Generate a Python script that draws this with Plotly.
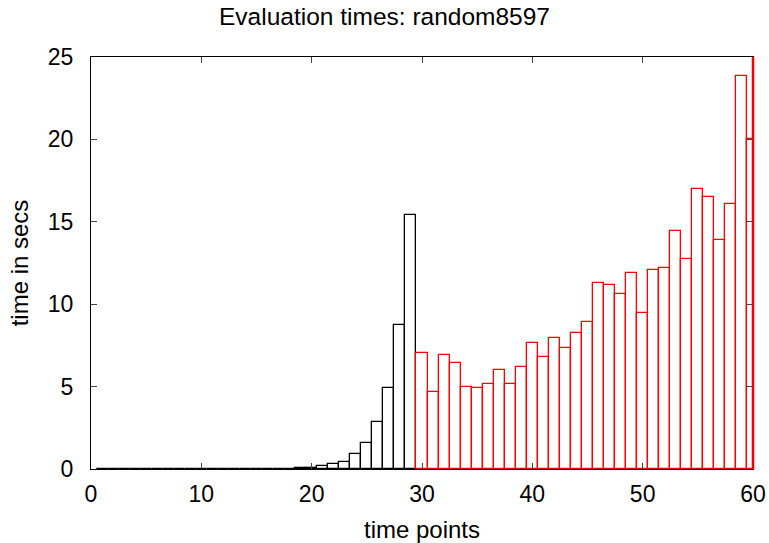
import plotly.graph_objects as go

black_x = list(range(1, 30))
black_y = [0.0, 0.0, 0.0, 0.0, 0.0, 0.0, 0.0, 0.0, 0.0, 0.0,
           0.0, 0.0, 0.0, 0.0, 0.01, 0.01, 0.02, 0.03, 0.05, 0.08,
           0.16, 0.3, 0.44, 0.89, 1.56, 2.87, 4.9, 8.76, 15.4]

red_x = list(range(30, 61))
red_y = [7.02, 4.67, 6.92, 6.43, 4.95, 4.93, 5.18, 5.99, 5.14, 6.17,
         7.67, 6.8, 7.93, 7.32, 8.27, 8.94, 11.27, 11.15, 10.64, 11.91,
         9.49, 12.05, 12.18, 14.42, 12.72, 16.97, 16.49, 13.88, 16.1, 23.85,
         20.0]

x_ticks = [0, 10, 20, 30, 40, 50, 60]
y_ticks = [0, 5, 10, 15, 20, 25]

fig = go.Figure()
fig.add_trace(go.Bar(x=black_x, y=black_y, width=1,
                     marker=dict(color="white", line=dict(color="black", width=1.3)),
                     showlegend=False))
fig.add_trace(go.Bar(x=red_x, y=red_y, width=1,
                     marker=dict(color="white", line=dict(color="red", width=1.3)),
                     showlegend=False))

# right border drawn red (clipped last red box in the original)
fig.add_shape(type="line", xref="paper", yref="paper", x0=1, x1=1, y0=0, y1=1,
              line=dict(color="red", width=2.5))

font = "Liberation Sans, Arial, Helvetica, sans-serif"
fig.update_layout(
    width=769, height=543,
    margin=dict(l=91, r=16, t=57, b=74, autoexpand=False),
    plot_bgcolor="white", paper_bgcolor="white",
    barmode="overlay", bargap=0,
    font=dict(family=font, size=23, color="black"),
    title=dict(text="Evaluation times: random8597", x=0.5, xanchor="center",
               y=0.969, yanchor="middle", font=dict(family=font, size=24.5)),
    xaxis=dict(range=[0, 60], tickvals=x_ticks, ticks="inside", ticklen=6,
               showline=True, linecolor="black", linewidth=1, mirror="ticks",
               showgrid=False, zeroline=False, automargin=False,
               ticklabelstandoff=4,
               title=dict(text="time points", font=dict(size=24), standoff=17)),
    yaxis=dict(range=[0, 25], tickvals=y_ticks, ticks="inside", ticklen=6,
               showline=True, linecolor="black", linewidth=1, mirror="ticks",
               showgrid=False, zeroline=False, automargin=False,
               ticklabelstandoff=12,
               title=dict(text="time in secs", font=dict(size=24), standoff=12)),
)

fig.write_html("out.html")
